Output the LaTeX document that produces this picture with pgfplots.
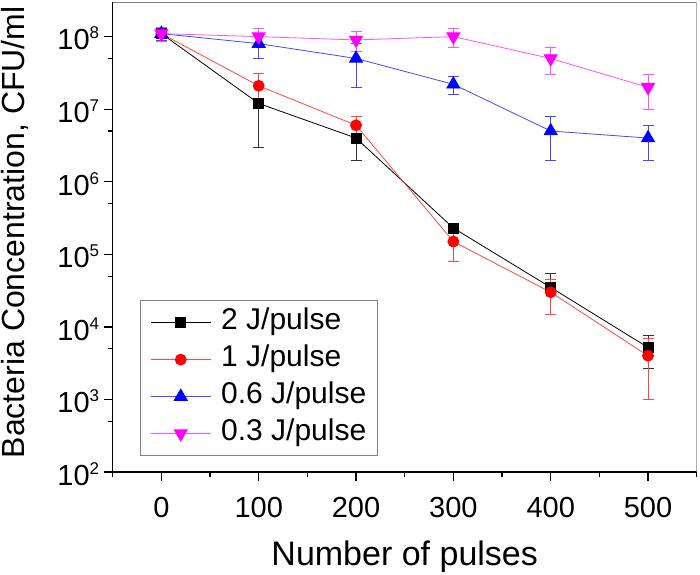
\documentclass[border=0pt]{standalone}
\usepackage{fontspec}
\setmainfont{Liberation Sans}
\usepackage{pgfplots}
\pgfplotsset{compat=1.18}
\usepackage{pgfplotstable}

\definecolor{cRed}{RGB}{255,0,0}
\definecolor{cRedL}{RGB}{255,70,70}
\definecolor{cBlue}{RGB}{0,0,255}
\definecolor{cBlueL}{RGB}{70,70,255}
\definecolor{cMag}{RGB}{255,0,255}
\definecolor{cMagL}{RGB}{255,80,255}

\pgfplotstableread{
x y e
0 1.1e8 2e7
100 1.2e7 9e6
200 4e6 2e6
300 2.3e5 2e4
400 3.5e4 2e4
500 5.2e3 2.5e3
}\twoJ
\pgfplotstableread{
x y e
0 1.1e8 2e7
100 2.1e7 1e7
200 6e6 2e6
300 1.5e5 7e4
400 3e4 1.5e4
500 4e3 3e3
}\oneJ
\pgfplotstableread{
x y e
0 1.1e8 2e7
100 8e7 3e7
200 5e7 3e7
300 2.2e7 6e6
400 5e6 3e6
500 4e6 2e6
}\sixJ
\pgfplotstableread{
x y e
0 1.1e8 2.5e7
100 1e8 2.8e7
200 9e7 2.7e7
300 1e8 3e7
400 5e7 2e7
500 2e7 1e7
}\threeJ

\newcommand{\tp}[1]{10\raisebox{11bp}{\fontsize{17bp}{17bp}\selectfont #1}}

\begin{document}
\begin{tikzpicture}
\useasboundingbox (-112.7bp,-103bp) rectangle (587.3bp,472bp);
\begin{axis}[
  scale only axis, width=584bp, height=470bp,
  at={(0,0)}, anchor=south west,
  xmin=-50, xmax=550, ymode=log, ymin=100, ymax=3e8,
  axis lines*=left,
  axis line style={line width=1.6bp, -},
  tick align=outside, major tick length=9bp, minor tick length=5bp,
  every tick/.style={black, line width=1.3bp},
  xtick={0,100,200,300,400,500}, xticklabels={0,100,200,300,400,500},
  minor xtick={-50,50,150,250,350,450,550},
  ytick={1e2,1e3,1e4,1e5,1e6,1e7,1e8},
  yticklabels={\tp{2},\tp{3},\tp{4},\tp{5},\tp{6},\tp{7},\tp{8}},
  minor ytick={5e2,5e3,5e4,5e5,5e6,5e7},
  tick label style={font=\fontsize{29bp}{31bp}\selectfont},
  xticklabel style={anchor=base, yshift=-37bp},
  yticklabel style={anchor=east, xshift=-1bp, yshift=-2bp},
  every axis x label/.style={at={(axis description cs:0.5,0)}, anchor=base, yshift=-93bp, font=\fontsize{34bp}{36bp}\selectfont},
  every axis y label/.style={at={(axis description cs:-0.167,0.51)}, rotate=90, anchor=center, font=\fontsize{32bp}{36bp}\selectfont},
  xlabel={Number of pulses},
  ylabel={Bacteria Concentration, CFU/ml},
  legend style={at={(0.0467,0.034)}, anchor=south west, draw=gray, line width=0.8bp,
    font=\fontsize{30bp}{32bp}\selectfont, row sep=9bp, inner xsep=10bp, inner ysep=8bp,
    nodes={inner sep=1bp, text height=20bp, text depth=6bp},
    /tikz/every odd column/.append style={column sep=9bp}},
  legend cell align=left,
  legend image code/.code={\draw[mark repeat=2,mark phase=2,#1] plot coordinates {(0bp,0bp) (30bp,0bp) (60bp,0bp)};},
]
\draw[gray, line width=0.8bp] (rel axis cs:0,1) -- (rel axis cs:1,1) -- (rel axis cs:1,0);
\addplot[black, line width=0.8bp, mark=square*, mark size=5bp, mark options={solid},
  error bars/.cd, y dir=both, y explicit,
  error bar style={black!80, line width=0.8bp},
  error mark options={rotate=90, mark size=5.5bp, black!80, line width=0.8bp}]
  table[x=x, y=y, y error=e]{\twoJ};
\addlegendentry{2 J/pulse}
\addplot[cRedL, line width=0.8bp, mark=*, mark size=5.5bp, mark options={cRed, fill=cRed},
  error bars/.cd, y dir=both, y explicit,
  error bar style={cRedL, line width=0.8bp},
  error mark options={rotate=90, mark size=5.5bp, cRedL, line width=0.8bp}]
  table[x=x, y=y, y error=e]{\oneJ};
\addlegendentry{1 J/pulse}
\addplot[cBlueL, line width=0.8bp, mark=triangle*, mark size=7.5bp, mark options={cBlue, fill=cBlue},
  error bars/.cd, y dir=both, y explicit,
  error bar style={cBlueL, line width=0.8bp},
  error mark options={rotate=90, mark size=5.5bp, cBlueL, line width=0.8bp}]
  table[x=x, y=y, y error=e]{\sixJ};
\addlegendentry{0.6 J/pulse}
\addplot[cMagL, line width=0.8bp, mark=triangle*, mark size=7.5bp, mark options={cMag, fill=cMag, rotate=180},
  error bars/.cd, y dir=both, y explicit,
  error bar style={cMagL, line width=0.8bp},
  error mark options={rotate=90, mark size=5.5bp, cMagL, line width=0.8bp}]
  table[x=x, y=y, y error=e]{\threeJ};
\addlegendentry{0.3 J/pulse}
\end{axis}
\end{tikzpicture}
\end{document}
